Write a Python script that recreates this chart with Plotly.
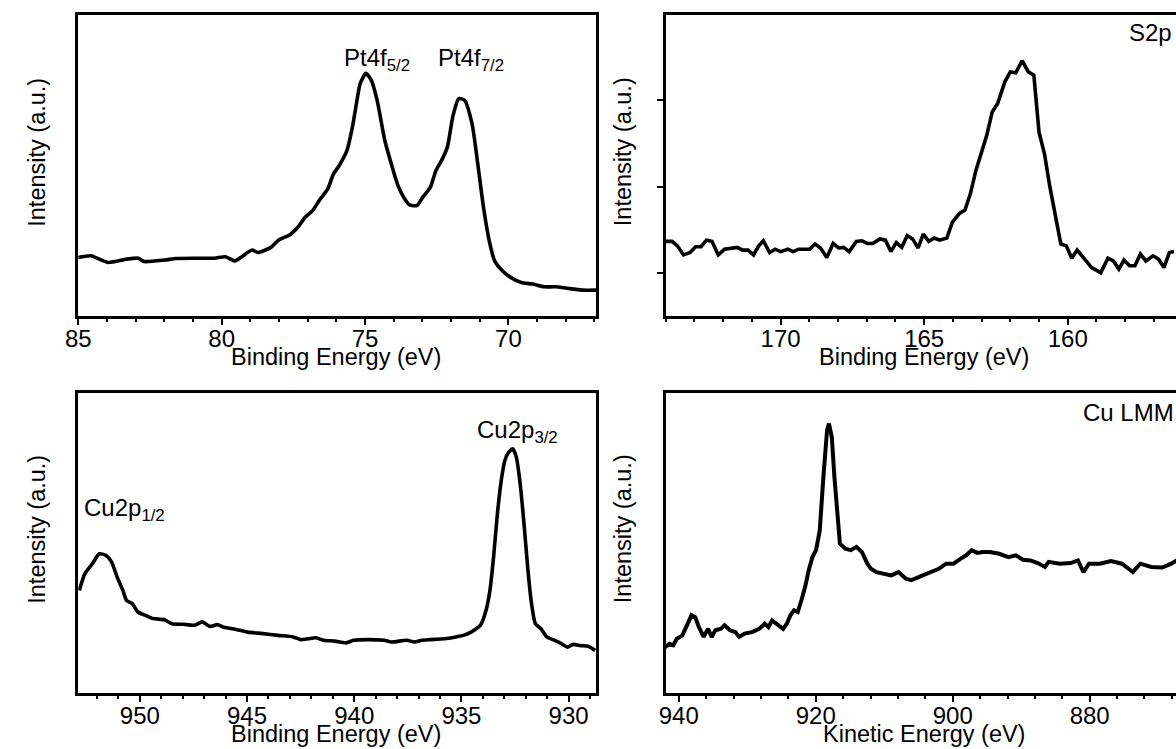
import plotly.graph_objects as go

W, H = 1176, 749

# ---------------- data ----------------
pt_be = [85.00, 84.56, 83.97, 83.31, 82.91, 82.71, 81.98, 81.59, 80.93, 80.26, 79.87, 79.54, 79.34,
         78.94, 78.74, 78.28, 78.02, 77.62, 77.35, 77.09, 76.83, 76.56, 76.30, 76.10, 75.90, 75.63,
         75.44, 75.30, 75.17, 74.97, 74.78, 74.58, 74.31, 74.05, 73.85, 73.65, 73.45, 73.19, 72.99,
         72.72, 72.53, 72.33, 72.13, 71.93, 71.73, 71.53, 71.27, 71.07, 70.87, 70.67, 70.48, 70.21,
         69.95, 69.55, 69.15, 68.76, 68.36, 67.96, 67.43, 66.93]
pt_int = [19.4, 20.0, 17.8, 18.9, 19.2, 18.1, 18.6, 19.1, 19.2, 19.2, 19.7, 18.3, 19.4,
          21.9, 21.1, 22.8, 25.2, 27.0, 29.4, 32.8, 35.0, 38.9, 42.2, 47.2, 50.0, 55.0,
          62.8, 70.6, 77.2, 80.6, 78.3, 71.7, 58.3, 49.4, 43.3, 39.4, 36.9, 36.7, 39.4,
          42.8, 48.3, 51.7, 56.1, 66.7, 72.2, 71.7, 63.9, 50.6, 36.1, 25.0, 18.3, 15.0,
          13.0, 11.1, 10.6, 9.7, 9.7, 9.2, 8.6, 8.6]

s_be = [174.00, 173.78, 173.59, 173.38, 173.15, 172.96, 172.77, 172.58, 172.39, 172.17, 171.95,
        171.70, 171.51, 171.32, 171.13, 170.94, 170.76, 170.60, 170.38, 170.19, 170.00, 169.75,
        169.56, 169.37, 168.99, 168.80, 168.61, 168.39, 168.17, 167.98, 167.80, 167.61, 167.36,
        167.17, 166.98, 166.79, 166.54, 166.35, 166.16, 165.97, 165.78, 165.59, 165.40, 165.21,
        165.03, 164.84, 164.65, 164.46, 164.21, 164.02, 163.77, 163.58, 163.39, 163.20, 163.01,
        162.82, 162.63, 162.44, 162.19, 162.00, 161.81, 161.59, 161.37, 161.18, 161.00, 160.81,
        160.62, 160.43, 160.24, 160.05, 159.86, 159.67, 159.42, 159.17, 158.85, 158.60, 158.41,
        158.22, 158.04, 157.85, 157.66, 157.47, 157.28, 157.03, 156.84, 156.65, 156.46, 156.30]
s_int = [24.8, 24.8, 23.3, 20.3, 21.1, 23.0, 23.0, 25.2, 24.8, 20.3, 22.2,
         22.6, 22.8, 21.9, 21.9, 20.3, 23.3, 25.0, 21.1, 22.2, 21.4, 22.2,
         21.4, 22.2, 22.2, 23.9, 22.6, 19.4, 24.1, 22.6, 22.8, 21.4, 24.8,
         25.0, 24.1, 24.1, 25.6, 25.2, 21.4, 24.4, 22.8, 26.7, 25.6, 22.6,
         27.2, 24.8, 25.9, 25.2, 25.9, 31.1, 34.1, 35.2, 40.6, 48.3, 54.4,
         60.0, 67.8, 70.6, 77.8, 81.1, 80.8, 84.8, 81.1, 80.0, 61.1, 53.9,
         42.8, 33.9, 23.9, 23.3, 19.2, 21.9, 18.9, 16.1, 14.4, 19.2, 18.3,
         15.6, 18.6, 16.7, 16.7, 20.6, 18.3, 20.0, 18.9, 16.1, 21.1, 21.4]

cu_be = [952.82, 952.56, 952.21, 951.89, 951.59, 951.32, 951.06, 950.79, 950.62, 950.35, 950.09,
         949.74, 949.38, 948.85, 948.50, 947.97, 947.44, 947.09, 946.73, 946.38, 946.12, 945.68,
         944.97, 944.26, 943.56, 942.85, 942.50, 942.14, 941.79, 941.44, 940.91, 940.38, 940.03,
         939.32, 938.61, 938.26, 937.55, 937.20, 936.85, 936.50, 935.79, 935.26, 934.91, 934.55,
         934.11, 933.85, 933.67, 933.50, 933.32, 933.14, 932.97, 932.79, 932.61, 932.44, 932.26,
         932.08, 931.91, 931.73, 931.55, 931.29, 931.02, 930.67, 930.32, 930.05, 929.79, 929.44,
         929.08, 928.76]
cu_int = [34.2, 39.8, 43.1, 46.4, 45.9, 43.7, 38.7, 34.2, 30.9, 29.8, 27.0,
          25.9, 24.8, 24.4, 23.1, 22.9, 22.6, 23.7, 22.2, 22.8, 22.0, 21.4,
          20.3, 19.8, 19.2, 18.7, 17.8, 18.1, 18.4, 17.6, 17.3, 16.7, 17.6,
          17.8, 17.6, 17.0, 17.6, 17.0, 17.6, 17.8, 18.1, 18.7, 19.2, 20.3,
          22.6, 27.6, 34.2, 45.3, 59.8, 70.9, 77.6, 80.3, 81.4, 78.7, 69.8,
          56.4, 42.0, 29.8, 23.1, 21.4, 18.7, 17.6, 16.4, 15.3, 16.2, 15.8,
          15.6, 14.2]

lmm_ke = [941.98, 941.34, 940.80, 940.27, 939.47, 938.93, 938.13, 937.59, 937.06, 936.36, 935.72,
          935.19, 934.65, 933.85, 933.32, 932.51, 931.71, 931.18, 930.37, 929.30, 928.24, 927.43,
          926.90, 926.36, 925.56, 924.76, 924.22, 923.69, 923.16, 922.62, 922.09, 921.55, 921.02,
          920.48, 919.95, 919.41, 918.88, 918.34, 918.07, 917.65, 917.27, 916.84, 916.47, 915.67,
          914.87, 914.06, 913.26, 912.46, 911.93, 911.12, 910.05, 908.98, 907.91, 906.84, 906.04,
          905.24, 904.17, 903.10, 902.03, 900.96, 899.89, 898.82, 898.02, 897.22, 896.42, 895.61,
          894.55, 893.21, 891.87, 890.80, 889.73, 888.66, 887.59, 886.52, 885.99, 884.39, 882.78,
          881.71, 880.91, 880.11, 878.50, 876.90, 875.29, 873.69, 872.62, 871.02, 869.41, 868.07,
          867.27, 866.84]
lmm_int = [15.3, 16.4, 15.9, 18.1, 19.2, 22.0, 25.9, 25.3, 22.0, 18.7, 21.4,
           18.7, 20.9, 21.4, 22.6, 20.9, 20.3, 18.7, 19.8, 20.3, 21.4, 23.1,
           22.0, 24.2, 22.6, 21.4, 23.1, 25.9, 27.6, 27.0, 30.9, 35.3, 40.9,
           45.3, 47.6, 54.2, 72.0, 87.6, 89.8, 85.3, 72.0, 57.6, 49.8, 48.1,
           47.6, 48.7, 47.0, 43.1, 41.4, 40.3, 39.8, 39.2, 40.3, 38.1, 37.6,
           38.4, 39.2, 40.3, 41.4, 43.1, 43.1, 44.8, 45.9, 47.6, 46.7, 47.0,
           47.0, 46.4, 45.3, 45.9, 44.4, 44.2, 43.3, 42.0, 43.7, 43.1, 43.3,
           44.2, 40.3, 43.1, 43.1, 44.0, 43.1, 40.3, 43.1, 42.0, 41.8, 43.1,
           44.2, 43.1]

s2p_ticks = [14.4, 42.8, 71.7]

# ---------------- layout helpers ----------------
def px(x):
    return x / W

def py(y):
    return 1 - y / H

FONT = "Liberation Sans, Arial, sans-serif"
left_dom = [px(66), px(590)]
right_dom = [px(660), 1.0]
top_dom = [py(316), py(15)]
bot_dom = [py(693), py(393)]

fig = go.Figure()

panels = [
    dict(x=pt_be, y=pt_int, xd=left_dom, yd=top_dom, rng=[85, 66.93], dt=5, minor=1, shape="spline", w=3.6),
    dict(x=s_be, y=s_int, xd=right_dom, yd=top_dom, rng=[174.0, 156.23], dt=5, minor=1, shape="linear", w=3.6),
    dict(x=cu_be, y=cu_int, xd=left_dom, yd=bot_dom, rng=[952.87, 928.7], dt=5, minor=1, shape="spline", w=3.6),
    dict(x=lmm_ke, y=lmm_int, xd=right_dom, yd=bot_dom, rng=[941.9, 867.4], dt=20, minor=4, shape="linear", w=4),
]

for i, p in enumerate(panels, start=1):
    sfx = "" if i == 1 else str(i)
    fig.add_trace(go.Scatter(x=p["x"], y=p["y"], mode="lines",
                             line=dict(color="black", width=p["w"], shape=p["shape"], smoothing=0.6),
                             xaxis="x" + sfx, yaxis="y" + sfx, showlegend=False, hoverinfo="skip"))
    is_left = p["xd"][0] < 0.3
    xa = dict(domain=p["xd"], range=p["rng"], anchor="y" + sfx, showgrid=False, zeroline=False,
              showline=True, linecolor="black", linewidth=2.5, mirror=True,
              ticks="outside", ticklen=6, tickwidth=2, tickcolor="black", dtick=p["dt"], tick0=0,
              minor=dict(dtick=p["minor"], tick0=0, ticks="outside", ticklen=3, tickwidth=2, tickcolor="black"),
              tickfont=dict(family=FONT, size=24, color="black"))
    ya = dict(domain=p["yd"], range=[0, 100], anchor="x" + sfx, showgrid=False, zeroline=False,
              showline=True, linecolor="black", linewidth=2.5, mirror=is_left,
              showticklabels=False, ticks="")
    if i == 2:
        ya.update(ticks="outside", ticklen=6, tickwidth=2, tickcolor="black", tickvals=s2p_ticks)
    fig.update_layout(**{"xaxis" + sfx: xa, "yaxis" + sfx: ya})
    try:
        fig.update_layout(**{"xaxis" + sfx: dict(ticklabelstandoff=-7)})
    except Exception:
        pass

ann = []
def add_text(text, x, y, xanchor="center", yanchor="middle", size=24, angle=0):
    ann.append(dict(text=text, x=px(x), y=py(y), xref="paper", yref="paper", showarrow=False,
                    xanchor=xanchor, yanchor=yanchor, textangle=angle,
                    font=dict(family=FONT, size=size, color="black")))

# axis titles
add_text("Binding Energy (eV)", 327, 357, size=23.5)
add_text("Binding Energy (eV)", 921, 357, size=23.5)
add_text("Binding Energy (eV)", 327, 734, size=23.5)
add_text("Kinetic Energy (eV)", 921, 734, size=23.5)
for yc in (152, 529):
    add_text("Intensity (a.u.)", 24, yc, angle=-90, size=23.5)
    add_text("Intensity (a.u.)", 617, yc, angle=-90, size=23.5)

# peak labels
add_text("Pt4f<sub>5/2</sub>", 333, 60, xanchor="left")
add_text("Pt4f<sub>7/2</sub>", 428, 60, xanchor="left")
add_text("S2p", 1174, 33, xanchor="right")
add_text("Cu LMM", 1176, 413, xanchor="right")
add_text("Cu2p<sub>1/2</sub>", 70, 510, xanchor="left")
add_text("Cu2p<sub>3/2</sub>", 467, 431, xanchor="left")

fig.update_layout(width=W, height=H, margin=dict(l=0, r=0, t=0, b=0),
                  paper_bgcolor="white", plot_bgcolor="white", annotations=ann,
                  font=dict(family=FONT, color="black"))

fig.write_html("out.html")
